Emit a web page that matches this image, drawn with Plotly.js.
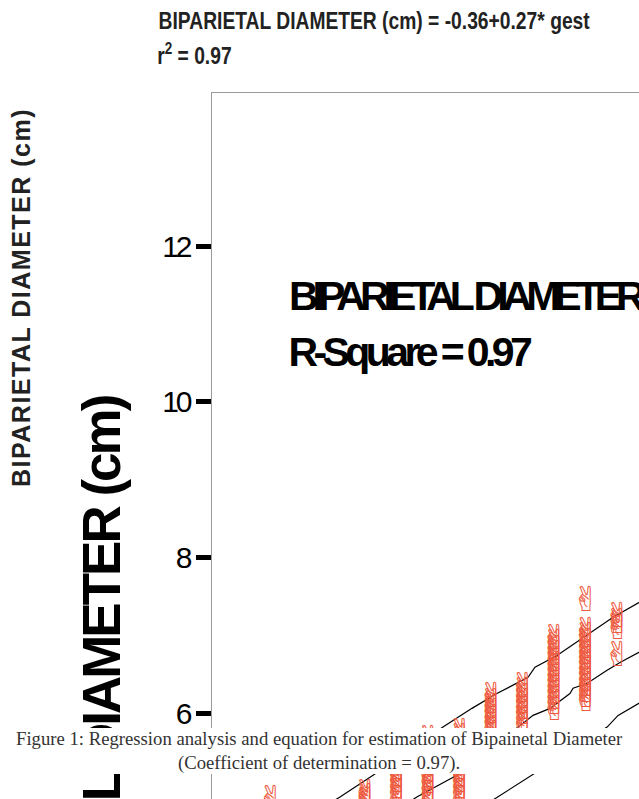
<!DOCTYPE html>
<html>
<head>
<meta charset="utf-8">
<script src="https://cdn.plot.ly/plotly-3.0.1.min.js"></script>
<style>
  html, body { margin: 0; padding: 0; background: #fff; }
  #chart { width: 639px; height: 799px; }
  g.annotation[data-index="0"] text, g.annotation[data-index="1"] text {
    transform-box: fill-box; transform-origin: center; transform: scaleX(0.82);
  }
  g.annotation[data-index="2"] text { letter-spacing: 1.5px; }
  g.annotation[data-index="3"] text { letter-spacing: -6px; }
  g.annotation[data-index="4"] text { letter-spacing: -4.6px; }
  g.annotation[data-index="5"] text { letter-spacing: -3px; }
  .ytick text { letter-spacing: -3px; }
  g.textpoint text { transform: translateY(5px); }
</style>
</head>
<body>
<div id="chart"></div>
<script>
// ---- data ----
const yTickValues = [6, 8, 10, 12];
const yTickLabels = ["6", "8", "10", "12"];

// observations: gestational age (weeks) and biparietal diameter (cm)
const obsGest = [
  16,
  19, 19, 19,
  20, 20, 20, 20, 20, 20, 20,
  21, 21, 21, 21, 21, 21, 21, 21, 21, 21, 21,
  22, 22, 22, 22, 22, 22, 22, 22, 22, 22, 22, 22,
  23, 23, 23, 23, 23, 23, 23, 23,
  24, 24, 24, 24, 24, 24, 24, 24,
  25, 25, 25, 25, 25, 25, 25, 25, 25, 25, 25, 25, 25, 25,
  26, 26, 26, 26, 26, 26, 26, 26, 26, 26, 26, 26, 26, 26, 26,
  27, 27, 27, 27
];
const obsBpd = [
  4.93,
  5.00, 4.95, 4.90,
  5.40, 5.32, 5.24, 5.16, 5.08, 5.00, 4.92,
  5.70, 5.62, 5.54, 5.46, 5.38, 5.30, 5.22, 5.14, 5.06, 4.98, 4.90,
  5.79, 5.72, 5.64, 5.56, 5.48, 5.40, 5.32, 5.24, 5.16, 5.08, 5.00, 4.92,
  6.25, 6.18, 6.11, 6.04, 5.97, 5.90, 5.83, 5.76,
  6.38, 6.31, 6.24, 6.17, 6.10, 6.03, 5.96, 5.89,
  7.00, 6.93, 6.86, 6.79, 6.72, 6.65, 6.58, 6.51, 6.44, 6.37, 6.30, 6.23, 6.16, 6.09,
  7.48, 7.09, 7.02, 6.95, 6.88, 6.81, 6.74, 6.67, 6.60, 6.53, 6.46, 6.39, 6.32, 6.25, 6.20,
  7.28, 7.20, 7.12, 6.78
];

// the three fitted / band lines
const upperLineX = [17.90, 18.19, 19.24, 21.46, 22.38, 23.17, 24.16, 24.38, 25.08, 26.03, 26.86, 27.68, 28.00];
const upperLineY = [4.85, 4.92, 5.20, 5.82, 6.06, 6.25, 6.46, 6.59, 6.74, 7.00, 7.23, 7.42, 7.50];
const middleLineX = [20.40, 20.63, 21.90, 23.84, 24.32, 24.86, 25.49, 25.59, 26.03, 26.67, 27.08, 27.68, 28.00];
const middleLineY = [4.86, 4.92, 5.20, 5.82, 5.97, 6.06, 6.25, 6.32, 6.38, 6.55, 6.65, 6.78, 6.85];
const lowerLineX = [23.00, 23.27, 24.29, 26.67, 27.02, 27.68, 28.00];
const lowerLineY = [4.87, 4.94, 5.20, 5.82, 5.97, 6.13, 6.20];

const markerGlyph = "\u270C";

// ---- traces ----
const lineStyle = { color: "#000", width: 1.2 };
const traces = [
  { type: "scatter", mode: "lines", x: upperLineX, y: upperLineY, line: lineStyle, hoverinfo: "skip", showlegend: false },
  { type: "scatter", mode: "lines", x: middleLineX, y: middleLineY, line: lineStyle, hoverinfo: "skip", showlegend: false },
  { type: "scatter", mode: "lines", x: lowerLineX, y: lowerLineY, line: lineStyle, hoverinfo: "skip", showlegend: false },
  {
    type: "scatter", mode: "text", x: obsGest, y: obsBpd,
    text: obsGest.map(() => markerGlyph),
    textposition: "middle center",
    textfont: { family: "DejaVu Sans", size: 34, color: "#ee5a3f" },
    showlegend: false, cliponaxis: true
  }
];

const L = 212, T = 93, W = 639, H = 799;
const pw = W - L, ph = H - T;
const px = v => (v - L) / pw;        // pixel -> paper x
const py = v => (H - v) / ph;        // pixel -> paper y

const layout = {
  width: W, height: H,
  margin: { l: L, r: 0, t: T, b: 0, pad: 0 },
  paper_bgcolor: "#fff", plot_bgcolor: "#fff",
  showlegend: false,
  xaxis: {
    range: [14.127, 27.683],
    side: "top", showline: true, linecolor: "#9a9a9a", linewidth: 1.5,
    showticklabels: false, ticks: "", showgrid: false, zeroline: false
  },
  yaxis: {
    range: [4.895, 13.97],
    tickvals: yTickValues, ticktext: yTickLabels,
    ticks: "outside", ticklen: 15, tickwidth: 5, tickcolor: "#000",
    showline: true, linecolor: "#9a9a9a", linewidth: 1.5,
    showgrid: false, zeroline: false,
    tickfont: { family: "Liberation Sans", size: 30, color: "#000" }
  },
  annotations: [
    { // 0 header line 1
      xref: "paper", yref: "paper", x: px(373.5), y: py(21), xanchor: "center", yanchor: "middle",
      text: "BIPARIETAL DIAMETER (cm) = -0.36+0.27* gest", showarrow: false,
      font: { family: "Liberation Sans", size: 23.5, color: "#222", weight: 700 }
    },
    { // 1 header line 2
      xref: "paper", yref: "paper", x: px(194.5), y: py(54), xanchor: "center", yanchor: "middle",
      text: "r<sup>2</sup> = 0.97", showarrow: false,
      font: { family: "Liberation Sans", size: 23.5, color: "#222", weight: 700 }
    },
    { // 2 outer y title
      xref: "paper", yref: "paper", x: px(21), y: py(298), xanchor: "center", yanchor: "middle",
      text: "BIPARIETAL DIAMETER (cm)", textangle: -90, showarrow: false,
      font: { family: "Liberation Sans", size: 25, color: "#222", weight: 700 }
    },
    { // 3 inner label line 1
      xref: "paper", yref: "paper", x: px(464.5), y: py(296), xanchor: "center", yanchor: "middle",
      text: "BIPARIETAL DIAMETER", showarrow: false,
      font: { family: "Liberation Sans", size: 41, color: "#000", weight: 700 }
    },
    { // 4 inner label line 2
      xref: "paper", yref: "paper", x: px(408.5), y: py(352), xanchor: "center", yanchor: "middle",
      text: "R-Square = 0.97", showarrow: false,
      font: { family: "Liberation Sans", size: 41, color: "#000", weight: 700 }
    },
    { // 5 big inner y title (rotated)
      xref: "paper", yref: "paper", x: px(101), y: py(725), xanchor: "center", yanchor: "middle",
      text: "BIPARIETAL DIAMETER (cm)", textangle: -90, showarrow: false,
      font: { family: "Liberation Sans", size: 53, color: "#000", weight: 700 }
    },
    { // 6 figure caption on white band
      xref: "paper", yref: "paper", x: px(319.5), y: py(751), xanchor: "center", yanchor: "middle",
      width: 639, height: 46, bgcolor: "#fff", borderpad: 0, borderwidth: 0,
      text: "Figure 1: Regression analysis and equation for estimation of Bipainetal Diameter<br>(Coefficient of determination = 0.97).",
      align: "center", showarrow: false,
      font: { family: "Liberation Serif", size: 18.7, color: "#333" }
    }
  ]
};

Plotly.newPlot("chart", traces, layout, { displayModeBar: false, staticPlot: true });
</script>
</body>
</html>
